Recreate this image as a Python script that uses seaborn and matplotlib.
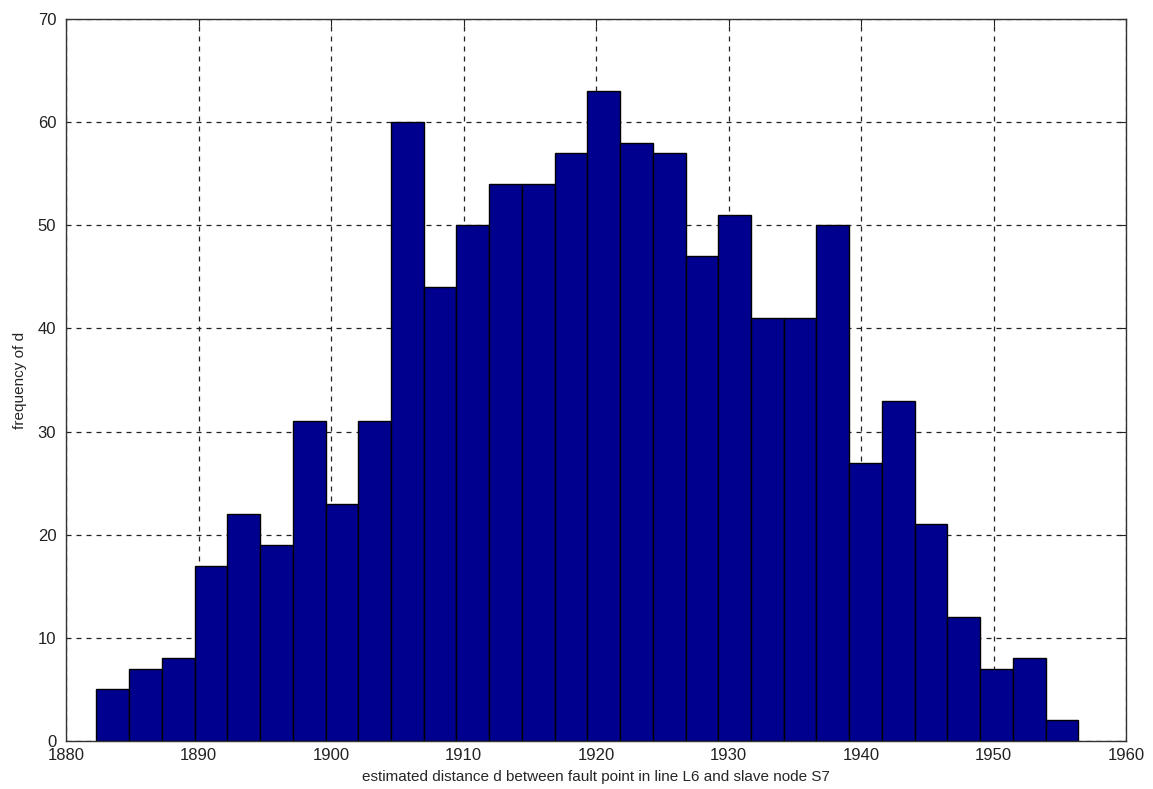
import numpy as np
import pandas as pd
import matplotlib
matplotlib.use("Agg")
import matplotlib.pyplot as plt
import seaborn as sns

# Histogram counts (30 bins)
counts = [5, 7, 8, 17, 22, 19, 31, 23, 31, 60,
          44, 50, 54, 54, 57, 63, 58, 57, 47, 51,
          41, 41, 50, 27, 33, 21, 12, 7, 8, 2]
d_min = 1882.3
d_max = 1956.4
x_ticks = [1880, 1890, 1900, 1910, 1920, 1930, 1940, 1950, 1960]
y_ticks = [0, 10, 20, 30, 40, 50, 60, 70]

edges = np.linspace(d_min, d_max, len(counts) + 1)
centers = (edges[:-1] + edges[1:]) / 2
df = pd.DataFrame({"d": centers, "n": counts})

sns.set_style("white")
plt.rcParams["font.family"] = ["Liberation Sans", "DejaVu Sans"]
plt.rcParams["font.size"] = 12

fig = plt.figure(figsize=(11.53, 7.89), dpi=100)
ax = fig.add_axes([66 / 1153, 1 - 741 / 789, 1060 / 1153, 722 / 789])

sns.histplot(data=df, x="d", weights="n", bins=edges.tolist(), ax=ax,
             color="#00008F", edgecolor="black", linewidth=1, alpha=1)

ax.set_xlim(1880, 1960)
ax.set_ylim(0, 70)
ax.set_xticks(x_ticks)
ax.set_yticks(y_ticks)
ax.grid(True, color="#222222", linestyle=(0, (4, 4)), linewidth=0.9)
ax.set_axisbelow(True)
ax.tick_params(direction="in", length=5, top=True, right=True,
               labelsize=12, colors="#222222")
ax.tick_params(axis="x", pad=5)
ax.tick_params(axis="y", pad=7)
for s in ax.spines.values():
    s.set_color("#333333")
    s.set_linewidth(1)

ax.set_xlabel("estimated distance d between fault point in line L6 and slave node S7",
              fontsize=11, labelpad=5)
ax.set_ylabel("frequency of d", fontsize=11, labelpad=8)

fig.savefig("out.png", dpi=100)
